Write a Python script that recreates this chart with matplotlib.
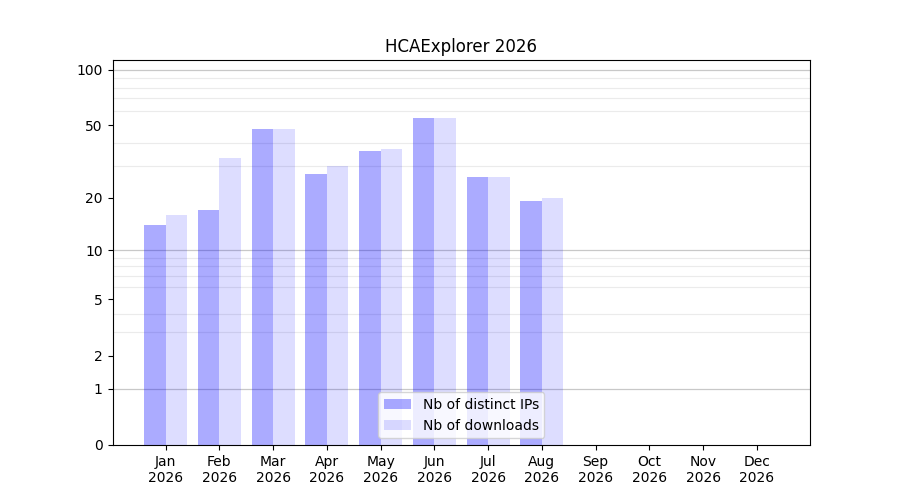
import numpy as np
import matplotlib
matplotlib.use("Agg")
import matplotlib.pyplot as plt
from matplotlib.ticker import FixedLocator

# ------------- data -------------
TITLE = "HCAExplorer 2026"
MONTHS = ["Jan", "Feb", "Mar", "Apr", "May", "Jun", "Jul", "Aug", "Sep", "Oct", "Nov", "Dec"]
YEAR = "2026"
DISTINCT_IPS = [14, 17, 48, 27, 36, 55, 26, 19, 0, 0, 0, 0]
DOWNLOADS = [16, 33, 48, 30, 37, 55, 26, 20, 0, 0, 0, 0]
Y_TICKS = [0, 1, 2, 5, 10, 20, 50, 100]
# ---------------------------------


def fwd(y):
    return np.log10(1 + np.asarray(y, dtype=float))


def inv(y):
    return 10 ** np.asarray(y, dtype=float) - 1


fig, ax = plt.subplots(figsize=(9, 5), dpi=100)
x = np.arange(len(MONTHS))
width = 0.4

ax.set_yscale("function", functions=(fwd, inv))

ax.bar(x - width / 2, DISTINCT_IPS, width, color="blue", alpha=0.33, label="Nb of distinct IPs", zorder=2)
ax.bar(x + width / 2, DOWNLOADS, width, color="blue", alpha=0.135, label="Nb of downloads", zorder=2)

# grid: faint lines for every unit of a decade, stronger at the powers of ten
minor = list(range(2, 10)) + list(range(20, 100, 10))
ax.yaxis.set_minor_locator(FixedLocator(minor))
ax.tick_params(axis="y", which="minor", length=0)
ax.grid(axis="y", which="minor", color="#ebebeb", linewidth=0.8, zorder=1)
for v in (1, 10, 100):
    ax.axhline(v, color="#c8c8c8", linewidth=0.9, zorder=1)

ax.set_yticks(Y_TICKS)
ax.set_yticklabels([str(t) for t in Y_TICKS])
ax.set_ylim(0, 113)

ax.set_xticks(x)
ax.set_xticklabels([f"{m}\n{YEAR}" for m in MONTHS])
ax.set_xlim(-0.99, 11.99)

ax.set_title(TITLE)
ax.legend(loc="lower center")

fig.savefig("out.png")
